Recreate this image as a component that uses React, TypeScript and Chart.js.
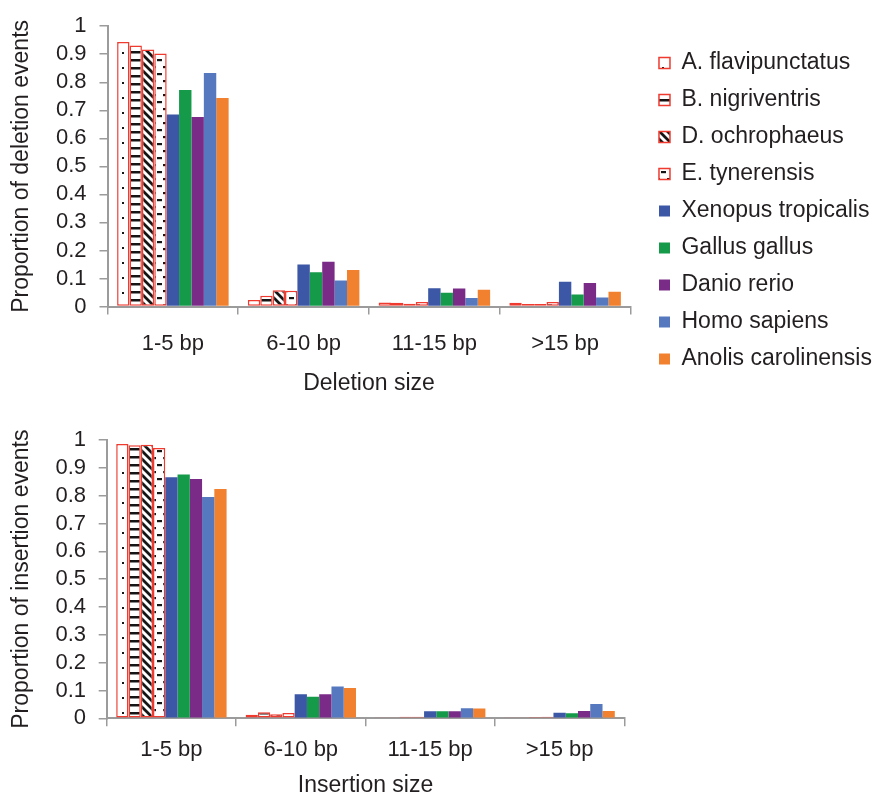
import React, { useEffect, useRef } from 'react';
import { Chart, registerables } from 'chart.js';

Chart.register(...registerables);

// ---------- data ----------
const categories = ['1-5 bp', '6-10 bp', '11-15 bp', '>15 bp'];
const speciesNames = [
  'A. flavipunctatus',
  'B. nigriventris',
  'D. ochrophaeus',
  'E. tynerensis',
  'Xenopus tropicalis',
  'Gallus gallus',
  'Danio rerio',
  'Homo sapiens',
  'Anolis carolinensis',
];

// deletion proportions
const delFlavipunctatus = [0.944, 0.023, 0.014, 0.013];
const delNigriventris = [0.931, 0.038, 0.013, 0.009];
const delOchrophaeus = [0.917, 0.058, 0.01, 0.009];
const delTynerensis = [0.903, 0.056, 0.016, 0.016];
const delXenopus = [0.685, 0.15, 0.065, 0.088];
const delGallus = [0.772, 0.122, 0.049, 0.043];
const delDanio = [0.676, 0.16, 0.064, 0.084];
const delHomo = [0.833, 0.093, 0.03, 0.032];
const delAnolis = [0.744, 0.13, 0.06, 0.053];

// insertion proportions
const insFlavipunctatus = [0.986, 0.013, 0.004, 0.002];
const insNigriventris = [0.981, 0.022, 0.004, 0.002];
const insOchrophaeus = [0.983, 0.015, 0.006, 0.001];
const insTynerensis = [0.971, 0.019, 0.006, 0.006];
const insXenopus = [0.866, 0.086, 0.025, 0.02];
const insGallus = [0.876, 0.077, 0.025, 0.018];
const insDanio = [0.86, 0.086, 0.025, 0.026];
const insHomo = [0.795, 0.114, 0.036, 0.051];
const insAnolis = [0.824, 0.109, 0.035, 0.026];

const deletionSeries = [
  delFlavipunctatus, delNigriventris, delOchrophaeus, delTynerensis,
  delXenopus, delGallus, delDanio, delHomo, delAnolis,
];
const insertionSeries = [
  insFlavipunctatus, insNigriventris, insOchrophaeus, insTynerensis,
  insXenopus, insGallus, insDanio, insHomo, insAnolis,
];

// ---------- styles ----------
const FONT = "'Liberation Sans', Arial, Helvetica, sans-serif";
const TEXT = '#231f20';
const AXIS = '#9b9b9b';
const RED = '#ee3a2f';
const solidColors = ['#3b57a5', '#159a4a', '#7a2b87', '#5578bf', '#f2812f'];
const patternKinds = ['dots', 'hlines', 'diag', 'dashes'];
const LEGEND_FONT = 23;
const LEGEND_PAD = 14;
const LEGEND_LEFT = 647;

function makePattern(kind: string): CanvasPattern | string {
  const c = document.createElement('canvas');
  let w = 12;
  let h = 15;
  if (kind === 'hlines') { w = 12; h = 8; }
  if (kind === 'diag') { w = 8; h = 8; }
  if (kind === 'dashes') { w = 12; h = 14; }
  c.width = w;
  c.height = h;
  const ctx = c.getContext('2d');
  if (!ctx) return '#fff';
  ctx.fillStyle = '#ffffff';
  ctx.fillRect(0, 0, w, h);
  ctx.fillStyle = '#151515';
  ctx.strokeStyle = '#151515';
  if (kind === 'dots') {
    ctx.fillRect(2, 7, 2, 2);
  } else if (kind === 'hlines') {
    ctx.fillRect(0, 3, 12, 2.5);
  } else if (kind === 'diag') {
    ctx.lineWidth = 2.8;
    ctx.beginPath();
    for (const k of [-8, 0, 8]) {
      ctx.moveTo(k - 2, -2);
      ctx.lineTo(k + 10, 10);
    }
    ctx.stroke();
  } else if (kind === 'dashes') {
    ctx.fillRect(1, 3, 5, 2.2);
    ctx.fillRect(7, 10, 5, 2.2);
  }
  return ctx.createPattern(c, 'repeat') || '#fff';
}

function buildDatasets(series: number[][]) {
  return series.map((values, i) => {
    const patterned = i < 4;
    return {
      label: speciesNames[i],
      data: values,
      backgroundColor: patterned ? makePattern(patternKinds[i]) : solidColors[i - 4],
      borderColor: patterned ? RED : solidColors[i - 4],
      borderWidth: patterned ? 1.5 : 0,
      borderSkipped: false as const,
      categoryPercentage: 0.853,
      barPercentage: 1,
    };
  });
}

interface ChartSpec {
  series: number[][];
  yTitle: string;
  xTitle: string;
  height: number;
  yWidth: number;
  xHeight: number;
  padTop: number;
  padRight: number;
  padBottom: number;
  xLabelPad: number;
  yLabelPad: number;
  xTitlePad: number;
  xTitleLineHeight: number;
  legend: boolean;
}

function measureLegendWidth(): number {
  const c = document.createElement('canvas').getContext('2d');
  if (!c) return 228;
  c.font = `${LEGEND_FONT}px ${FONT}`;
  let m = 0;
  for (const s of speciesNames) m = Math.max(m, c.measureText(s).width);
  return LEGEND_PAD + 11 + LEGEND_FONT / 2 + m;
}

function BarPanel({ spec }: { spec: ChartSpec }) {
  const ref = useRef<HTMLCanvasElement | null>(null);
  useEffect(() => {
    if (!ref.current) return;
    let padRight = spec.padRight;
    let legendWidth = 228;
    if (spec.legend) {
      legendWidth = measureLegendWidth();
      padRight = Math.max(0, 877 - LEGEND_LEFT - legendWidth);
    }
    const scales: any = {
      x: {
        grid: {
          display: true,
          drawOnChartArea: false,
          drawTicks: true,
          tickLength: 8,
          color: AXIS,
          lineWidth: 1.5,
          offset: true,
        },
        border: { display: true, color: AXIS, width: 2 },
        ticks: {
          color: TEXT,
          font: { size: 22, family: FONT },
          padding: spec.xLabelPad,
          maxRotation: 0,
          autoSkip: false,
        },
        title: {
          display: true,
          text: spec.xTitle,
          color: TEXT,
          font: { size: 23, family: FONT, lineHeight: spec.xTitleLineHeight },
          padding: { top: 0, bottom: spec.xTitlePad },
        },
        afterFit: (s: any) => { s.height = spec.xHeight; },
      },
      y: {
        min: 0,
        max: 1,
        grid: {
          display: true,
          drawOnChartArea: false,
          drawTicks: true,
          tickLength: 8,
          color: AXIS,
          lineWidth: 1.5,
        },
        border: { display: true, color: AXIS, width: 2 },
        ticks: {
          stepSize: 0.1,
          autoSkip: false,
          color: TEXT,
          font: { size: 22, family: FONT },
          padding: spec.yLabelPad,
          callback: (v: any) => String(Math.round(Number(v) * 10) / 10),
        },
        title: {
          display: true,
          text: spec.yTitle,
          color: TEXT,
          font: { size: 23, family: FONT },
          padding: { top: 7.5, bottom: 0 },
        },
        afterFit: (s: any) => { s.width = spec.yWidth; },
      },
    };
    if (spec.legend) {
      scales.spacer = {
        type: 'linear',
        position: 'right',
        display: true,
        grid: { display: false },
        border: { display: false },
        ticks: { display: false },
        afterFit: (s: any) => { s.width = LEGEND_LEFT - 632.5; },
      };
    }
    const chart = new Chart(ref.current, {
      type: 'bar',
      data: { labels: categories, datasets: buildDatasets(spec.series) as any },
      options: {
        responsive: false,
        animation: false,
        devicePixelRatio: 1,
        layout: {
          padding: { top: spec.padTop, right: padRight, bottom: spec.padBottom, left: 0 },
        },
        plugins: {
          legend: {
            display: spec.legend,
            position: 'right',
            align: 'center',
            maxWidth: Math.ceil(legendWidth) + 2,
            labels: {
              boxWidth: 11,
              boxHeight: 11,
              padding: LEGEND_PAD,
              color: TEXT,
              font: { size: LEGEND_FONT, family: FONT },
            },
          },
          tooltip: { enabled: false },
        },
        scales,
      },
    });
    return () => chart.destroy();
  }, [spec]);
  return <canvas ref={ref} width={877} height={spec.height} style={{ display: 'block' }} />;
}

const topSpec: ChartSpec = {
  series: deletionSeries,
  yTitle: 'Proportion of deletion events',
  xTitle: 'Deletion size',
  height: 405,
  yWidth: 107.5,
  xHeight: 94.5,
  padTop: 21,
  padRight: 0,
  padBottom: 4,
  xLabelPad: 16,
  yLabelPad: 13,
  xTitlePad: 3.2,
  xTitleLineHeight: 1.2,
  legend: true,
};

const bottomSpec: ChartSpec = {
  series: insertionSeries,
  yTitle: 'Proportion of insertion events',
  xTitle: 'Insertion size',
  height: 392,
  yWidth: 106.7,
  xHeight: 78.7,
  padTop: 35,
  padRight: 877 - 624.3,
  padBottom: 0,
  xLabelPad: 10.5,
  yLabelPad: 12.7,
  xTitlePad: 0,
  xTitleLineHeight: 1,
  legend: false,
};

export default function App() {
  return (
    <div
      style={{
        position: 'absolute',
        left: 0,
        top: 0,
        width: 877,
        height: 797,
        overflow: 'hidden',
        background: '#ffffff',
      }}
    >
      <BarPanel spec={topSpec} />
      <BarPanel spec={bottomSpec} />
    </div>
  );
}
